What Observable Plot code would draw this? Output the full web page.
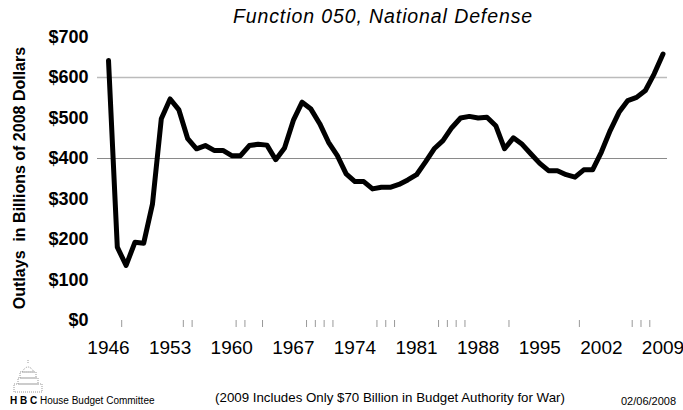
<!DOCTYPE html>
<html>
<head>
<meta charset="utf-8">
<script src="https://cdn.jsdelivr.net/npm/d3@7"></script>
<script src="https://cdn.jsdelivr.net/npm/@observablehq/plot@0.6"></script>
<style>
  body { margin: 0; background: #fff; }
  #wrap { position: relative; width: 683px; height: 410px; overflow: hidden; font-family: "Liberation Sans", Arial, sans-serif; }
  #chart { position: absolute; left: 0; top: 0; }
  #chart svg { overflow: visible; }
  .abs { position: absolute; white-space: nowrap; color: #000; }
  #title { left: 0; width: 766px; top: 5px; text-align: center; font-size: 19.5px; font-style: italic; letter-spacing: 0.9px; }
  #ylabel { left: 20px; top: 178px; font-size: 16px; font-weight: bold; transform: translate(-50%, -50%) rotate(-90deg); }
  #hbc { left: 10px; top: 395px; font-size: 10px; }
  #note { left: 390px; top: 390px; transform: translateX(-50%); font-size: 13.3px; }
  #date { left: 621px; top: 395px; font-size: 11px; }
  #logo { position: absolute; left: 8px; top: 358px; }
</style>
</head>
<body>
<div id="wrap">
  <div id="chart"></div>
  <div id="title" class="abs">Function 050, National Defense</div>
  <div id="ylabel" class="abs">Outlays&nbsp; in Billions of 2008 Dollars</div>
  <svg id="logo" width="40" height="38" viewBox="0 0 40 38">
    <g fill="none" stroke="#999" stroke-width="1" stroke-dasharray="1 1">
      <path d="M20 2 L20 6 M14 14 Q20 4 26 14 Z M12 14 H28 V20 H12 Z M10 20 H30 V26 H10 Z M6 26 H34 V34 H6 Z"/>
    </g>
  </svg>
  <div id="hbc" class="abs"><b>H B C</b> House Budget Committee</div>
  <div id="note" class="abs">(2009 Includes Only $70 Billion in Budget Authority for War)</div>
  <div id="date" class="abs">02/06/2008</div>
</div>
<script>
const years = d3.range(1946, 2010);
const outlays = [
  642, 181, 136, 193, 191, 288, 498, 547, 520, 449,
  424, 432, 420, 420, 407, 407, 432, 435, 433, 397,
  426, 494, 539, 522, 486, 440, 407, 362, 343, 343,
  325, 329, 329, 336, 347, 360, 391, 424, 444, 476,
  500, 504, 500, 502, 481, 424, 451, 435, 411, 388,
  370, 370, 360, 354, 372, 372, 416, 469, 514, 543,
  551, 568, 609, 658
];
const yearLabels = [1946, 1953, 1960, 1967, 1974, 1981, 1988, 1995, 2002, 2009];
const dollarTicks = [0, 100, 200, 300, 400, 500, 600, 700];
const gridLight = [600];
const gridDark = [400];
// years whose right-hand category boundary shows a visible tick mark
const tickMarkYears = [1947, 1954, 1955, 1960, 1961, 1963, 1968, 1969, 1970, 1971,
  1976, 1977, 1978, 1983, 1984, 1985, 1986, 1991, 1999, 2005, 2006, 2007];

const data = years.map((year, i) => ({year, value: outlays[i]}));

const chart = Plot.plot({
  width: 683,
  height: 410,
  marginTop: 36.5,
  marginBottom: 90,
  marginLeft: 97,
  marginRight: 16,
  style: {fontFamily: '"Liberation Sans", Arial, sans-serif', background: "transparent", color: "#000", overflow: "visible"},
  x: {domain: [1946, 2009], insetLeft: 11, insetRight: 4.5},
  y: {domain: [0, 700]},
  marks: [
    Plot.ruleY(gridLight, {stroke: "#bbbbbb", strokeWidth: 1.5}),
    Plot.ruleY(gridDark, {stroke: "#8a8a8a", strokeWidth: 1.2}),
    Plot.axisX({ticks: tickMarkYears.map(y => y + 0.5), tickSize: 7, text: null, stroke: "#999", strokeWidth: 1, label: null}),
    Plot.axisX({ticks: yearLabels, tickSize: 0, tickPadding: 20, tickFormat: d => String(d), fontSize: 19, label: null}),
    Plot.axisY({ticks: dollarTicks, tickSize: 0, tickPadding: 9, tickFormat: d => "$" + d, fontSize: 18, fontWeight: "bold", label: null}),
    Plot.line(data, {x: "year", y: "value", stroke: "#000", strokeWidth: 5, strokeLinejoin: "round", strokeLinecap: "round"})
  ]
});
document.getElementById("chart").appendChild(chart);
</script>
</body>
</html>
